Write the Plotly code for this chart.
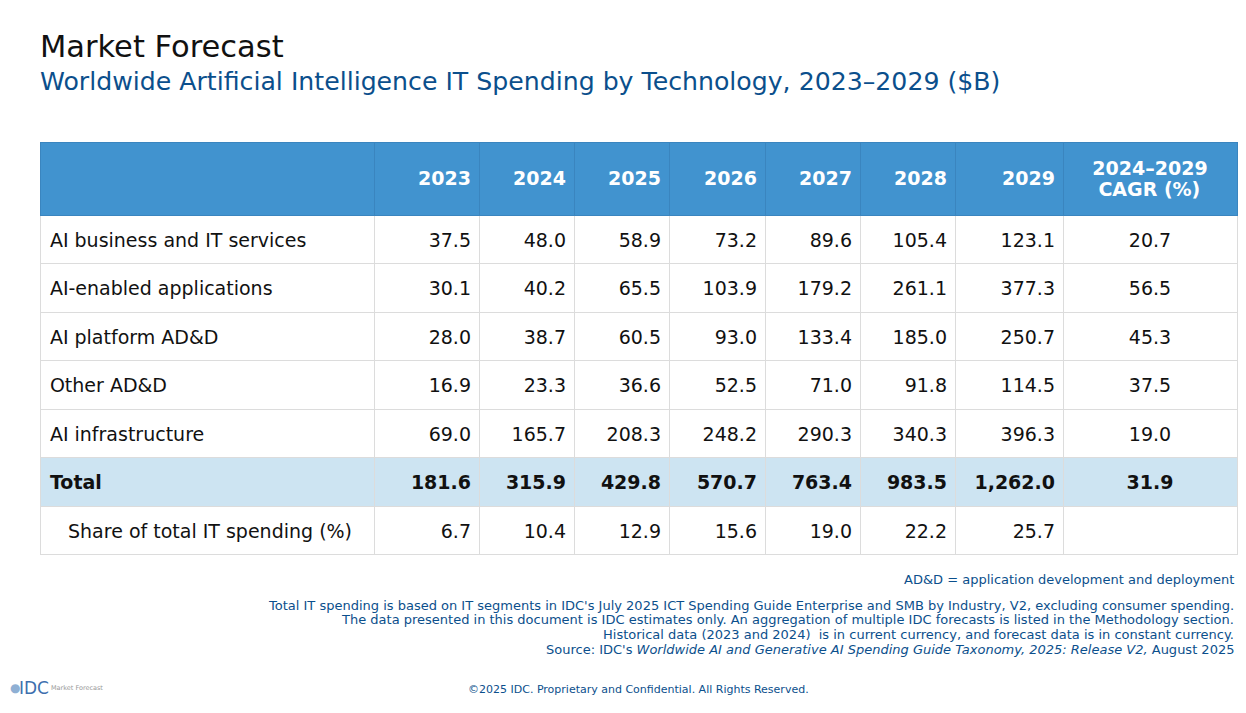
import plotly.graph_objects as go

# ---------------- data ----------------
categories = ["AI business and IT services", "AI-enabled applications", "AI platform AD&D",
              "Other AD&D", "AI infrastructure", "Total", "Share of total IT spending (%)"]
years = ["2023", "2024", "2025", "2026", "2027", "2028", "2029"]
v2023 = [37.5, 30.1, 28.0, 16.9, 69.0, 181.6, 6.7]
v2024 = [48.0, 40.2, 38.7, 23.3, 165.7, 315.9, 10.4]
v2025 = [58.9, 65.5, 60.5, 36.6, 208.3, 429.8, 12.9]
v2026 = [73.2, 103.9, 93.0, 52.5, 248.2, 570.7, 15.6]
v2027 = [89.6, 179.2, 133.4, 71.0, 290.3, 763.4, 19.0]
v2028 = [105.4, 261.1, 185.0, 91.8, 340.3, 983.5, 22.2]
v2029 = [123.1, 377.3, 250.7, 114.5, 396.3, 1262.0, 25.7]
cagr = [20.7, 56.5, 45.3, 37.5, 19.0, 31.9, None]
cagr_label = ["2024–2029", "CAGR (%)"]

title = "Market Forecast"
subtitle = "Worldwide Artificial Intelligence IT Spending by Technology, 2023–2029 ($B)"
footnotes = [
    "AD&D = application development and deployment",
    "Total IT spending is based on IT segments in IDC's July 2025 ICT Spending Guide Enterprise and SMB by Industry, V2, excluding consumer spending.",
    "The data presented in this document is IDC estimates only. An aggregation of multiple IDC forecasts is listed in the Methodology section.",
    "Historical data (2023 and 2024)  is in current currency, and forecast data is in constant currency.",
    "Source: IDC's <i>Worldwide AI and Generative AI Spending Guide Taxonomy, 2025: Release V2,</i> August 2025",
]
copyright_txt = "©2025 IDC. Proprietary and Confidential. All Rights Reserved."

# ---------------- styling ----------------
OFF = 8                      # page body margin
W, H = 1246 - 2 * OFF, 713 - 2 * OFF
FONT = "DejaVu Sans"
HEADER_BLUE = "#4193cf"
TOTAL_BLUE = "#cde4f2"
NAVY = "#0b4f8c"
GRID = "#dcdcdc"
TXT = 19
TOTAL_IDX = categories.index("Total")
SHARE_IDX = len(categories) - 1


def px(x):
    return (x - OFF) / W


def py(y):
    return 1 - (y - OFF) / H


SP = "\u00a0"
HAIR = "\u200a"


def spacer(n):
    return (SP + "<br>") * n


def big(s):
    return f"<span style='font-size:{TXT}px'>{s}</span>"


def cell(s, lead=1):
    """Text pushed down by `lead` small spacer lines to centre it in the row."""
    return spacer(lead) + big(s)


def fmt(v, bold):
    if v is None:
        return SP
    s = f"{v:,.1f}"
    return cell(f"<b>{s}</b>" if bold else s)


series = [v2023, v2024, v2025, v2026, v2027, v2028, v2029, cagr]
first_col = []
for i, c in enumerate(categories):
    if i == TOTAL_IDX:
        first_col.append(cell(HAIR + f"<b>{c}</b>"))
    elif i == SHARE_IDX:
        first_col.append(cell(HAIR + SP * 3 + c))
    else:
        first_col.append(cell(HAIR + c))
columns = [first_col] + [[fmt(v, i == TOTAL_IDX) for i, v in enumerate(s)] for s in series]

n_cols = len(columns)
row_fill = [TOTAL_BLUE if i == TOTAL_IDX else "white" for i in range(len(categories))]

cagr_header = (spacer(5) + big(f"<b>{cagr_label[0]}</b>") + "<br>"
               + spacer(4) + big(SP + f"<b>{cagr_label[1]}</b>"))
header_vals = [SP] + [cell(f"<b>{y}</b>", 2) for y in years] + [cagr_header]
header_sizes = [10] * (len(years) + 1) + [3.34]
align_cols = ["left"] + ["right"] * len(years) + ["center"]

fig = go.Figure(go.Table(
    domain=dict(x=[px(40), px(1237)], y=[0, py(142)]),
    columnwidth=[334, 105, 95, 95, 96, 95, 95, 108, 174],
    header=dict(
        values=header_vals,
        align=align_cols,
        fill_color=HEADER_BLUE,
        line=dict(color="#3a85bf", width=1),
        font=dict(family=FONT, size=header_sizes, color="white"),
        height=73,
    ),
    cells=dict(
        values=columns,
        align=align_cols,
        fill_color=[row_fill] * n_cols,
        line=dict(color=GRID, width=1),
        font=dict(family=FONT, size=10.5, color="#111111"),
        height=48.5,
    ),
))

annotations = [
    dict(text=title, x=px(38), y=py(47), xanchor="left", yanchor="middle",
         font=dict(family=FONT, size=30.5, color="#111111")),
    dict(text=subtitle, x=px(38), y=py(81), xanchor="left", yanchor="middle",
         font=dict(family=FONT, size=25.2, color=NAVY)),
]
foot_y = [579, 605, 619, 634, 649]
for t, yy in zip(footnotes, foot_y):
    annotations.append(dict(text=t, x=px(1236), y=py(yy), xanchor="right", yanchor="middle",
                            font=dict(family=FONT, size=13, color=NAVY)))
annotations.append(dict(text=copyright_txt, x=px(638), y=py(689), xanchor="center", yanchor="middle",
                        font=dict(family=FONT, size=11, color=NAVY)))
annotations.append(dict(text="●", x=px(8), y=py(688), xanchor="left", yanchor="middle",
                        font=dict(family=FONT, size=12, color="#8fb0d4")))
annotations.append(dict(text="IDC", x=px(17), y=py(688), xanchor="left", yanchor="middle",
                        font=dict(family=FONT, size=17, color="#3d6fae")))
annotations.append(dict(text="Market Forecast", x=px(49), y=py(688), xanchor="left", yanchor="middle",
                        font=dict(family=FONT, size=6.5, color="#999999")))
for a in annotations:
    a.update(xref="paper", yref="paper", showarrow=False)

fig.update_layout(
    width=W, height=H,
    margin=dict(l=0, r=0, t=0, b=0),
    paper_bgcolor="white", plot_bgcolor="white",
    annotations=annotations,
)
fig.write_html("out.html")
